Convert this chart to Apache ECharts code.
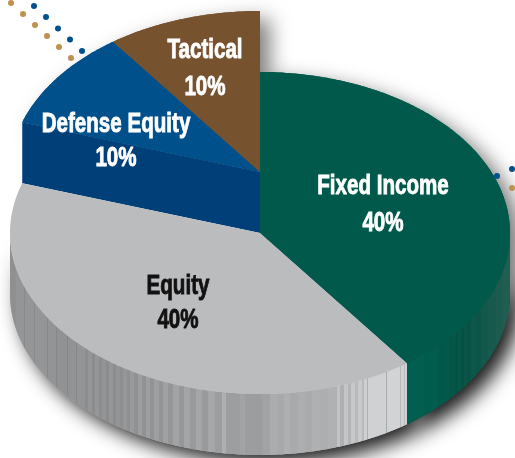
<!DOCTYPE html>
<html>
<head>
<meta charset="utf-8">
<style>html,body{margin:0;padding:0;background:#fff}#c{width:515px;height:458px}</style>
<script src="https://cdn.jsdelivr.net/npm/echarts@6/dist/echarts.min.js"></script>
</head>
<body>
<div id="c"></div>
<script>
const categories = ['Fixed Income', 'Equity', 'Defense Equity', 'Tactical'];
const shares = [40, 40, 10, 10];

const topColors = ['#00594a', '#bbbcbe', '#00508c', '#76522e'];
const labelColors = ['#ffffff', '#111111', '#ffffff', '#ffffff'];
const labelSpots = [[383, 186, 223], [178, 286, 320], [116, 124, 158], [205, 50, 87]];
const faceColor = '#003f78';
const firstLifted = 2;

const CX = 260, CY = 233, RX = 250, RY = 161, DEPTH = 61;
const FONT = 'bold 28px "Liberation Sans", sans-serif';
const TEXT_SQUEEZE = 0.735;

const greyWall = [
  [8,'#8f9092'],[16,'#949597'],[24,'#88898b'],[25,'#949597'],[34,'#88898b'],[35,'#949597'],[47,'#87888a'],[48,'#939496'],
  [56,'#86878a'],[57,'#919294'],[67,'#858688'],[68,'#929395'],[76,'#858688'],[77,'#939496'],[85,'#8c8d8f'],[88,'#949597'],
  [92,'#8b8c8e'],[95,'#959698'],[99,'#8c8d8f'],[102,'#939496'],[106,'#8b8c8e'],[109,'#959698'],[113,'#8c8d8f'],[116,'#949597'],
  [120,'#8d8e90'],[123,'#969799'],[127,'#8e8f91'],[130,'#999a9c'],[134,'#909193'],[138,'#9d9ea0'],[142,'#919294'],[146,'#9e9fa1'],
  [150,'#929395'],[154,'#9f9fa2'],[159,'#939496'],[163,'#a0a1a3'],[168,'#959698'],[173,'#a2a3a5'],[179,'#969799'],[184,'#a4a5a7'],
  [190,'#98999b'],[196,'#a5a6a8'],[202,'#9a9a9c'],[208,'#a6a7a9'],[215,'#9c9d9f'],[222,'#aeafb1'],[226,'#9d9ea0'],[240,'#a2a3a5'],
  [245,'#9c9d9f'],[262,'#a1a2a4'],[270,'#abacae'],[278,'#a7a8aa'],[284,'#aeafb1'],[290,'#a9aaac'],[298,'#adaeb0'],[305,'#aaabad'],
  [312,'#afb0b2'],[320,'#adaeb0'],[328,'#b0b1b3'],[337,'#c2c3c5'],[340,'#afb0b2'],[344,'#c4c5c7'],[348,'#b4b5b7'],[351,'#c6c7c9'],
  [355,'#b8b9bb'],[358,'#c9cacc'],[362,'#b8b9bb'],[364,'#cdcfd0'],[367,'#abb2b0'],[368,'#cfd1d2'],[386,'#a5aeab'],[387,'#d1d3d4'],
  [400,'#b8bdbb'],[401,'#d0d2d3'],[404,'#bcc1bf'],[405,'#d0d2d3']
];
const greenWall = [
  [407,'#005f50'],[416,'#025e4f'],[424,'#005c4d'],[431,'#035c4d'],[438,'#00594b'],[444,'#04594b'],[449,'#035547'],[452,'#075749'],
  [455,'#045245'],[458,'#095648'],[461,'#055144'],[464,'#0b5548'],[467,'#085245'],[471,'#0f574a'],[476,'#0c5448'],[481,'#14584c'],
  [488,'#18594d'],[496,'#1d5b4f'],[503,'#215d51'],[511,'#1e5a4e']
];
const dotsBlue = [[34,6],[46,17],[58,28.5],[70,39.5],[82,51],[497,176],[512,169]];
const dotsTan = [[11,3],[23,14],[35,25],[47,36],[59,47],[71,58],[512,188]];

function hardStops(list) {
  const a = list[0][0], b = list[list.length - 1][0] + 6, stops = [];
  list.forEach((s, i) => {
    const next = i + 1 < list.length ? list[i + 1][0] : b;
    stops.push({ offset: (s[0] - a) / (b - a), color: s[1] });
    stops.push({ offset: (next - a) / (b - a), color: s[1] });
  });
  return { type: 'linear', x: a, y: 0, x2: b, y2: 0, global: true, colorStops: stops };
}
function pt(deg, lift) {
  const t = deg * Math.PI / 180;
  return [CX + RX * Math.sin(t), CY - lift - RY * Math.cos(t)];
}
function arc(from, to, lift) {
  const p = [], n = Math.max(2, Math.ceil(Math.abs(to - from) * 2));
  for (let i = 0; i <= n; i++) p.push(pt(from + (to - from) * i / n, lift));
  return p;
}
const total = shares.reduce((a, b) => a + b, 0);

function geometry(api) {
  const i = api.value(1);
  let before = 0;
  for (let k = 0; k < i; k++) before += shares[k];
  const start = before / total * 360, end = (before + api.value(0)) / total * 360;
  const lift = i >= firstLifted ? DEPTH : 0;
  const wedge = [[CX, CY - lift]].concat(arc(start, end, lift));
  const wallFrom = Math.max(start, 90), wallTo = Math.min(end, 270);
  const wall = !lift && wallTo > wallFrom ? arc(wallFrom, wallTo, 0).concat(arc(wallTo, wallFrom, -DEPTH)) : null;
  return { i, start, lift, wedge, wall };
}

function renderShadow(params, api) {
  const g = geometry(api);
  const shadow = {
    fill: topColors[g.i],
    shadowBlur: 20,
    shadowColor: g.lift ? 'rgba(0,0,0,0.5)' : 'rgba(0,0,0,0.9)',
    shadowOffsetX: 10,
    shadowOffsetY: 8
  };
  const outline = g.wall ? g.wall : g.wedge;
  const children = [{ type: 'polygon', shape: { points: outline }, style: shadow }];
  if (g.wall && g.start < 90) {
    children.push({ type: 'polygon', shape: { points: g.wedge }, style: Object.assign({}, shadow, { shadowColor: 'rgba(0,0,0,0.55)' }) });
  }
  return { type: 'group', children };
}

function renderSurface(params, api) {
  const g = geometry(api);
  const i = g.i;
  const children = [];
  if (g.wall) {
    children.push({ type: 'polygon', z2: 3, shape: { points: g.wall }, style: { fill: hardStops(g.start < 100 ? greenWall : greyWall) } });
  }
  if (i === firstLifted) {
    const face = [pt(g.start, g.lift), [CX, CY - g.lift], [CX, CY], pt(g.start, 0)];
    children.push({ type: 'polygon', z2: 2, shape: { points: face }, style: { fill: faceColor } });
  }
  children.push({ type: 'polygon', z2: 5, shape: { points: g.wedge }, style: { fill: topColors[i] } });

  const spot = labelSpots[i];
  [categories[i], api.value(0) + '%'].forEach((text, line) => {
    children.push({
      type: 'text', z2: 9, x: spot[0], y: spot[line + 1], scaleX: TEXT_SQUEEZE, scaleY: 1,
      style: {
        x: 0, y: 0, text, fill: labelColors[i], stroke: labelColors[i], lineWidth: 0.9,
        font: FONT, align: 'center', verticalAlign: 'middle'
      }
    });
  });
  return { type: 'group', children };
}

function dotGraphic(list, fill) {
  return list.map(p => ({ type: 'circle', z: 10, shape: { cx: p[0], cy: p[1], r: 3 }, style: { fill } }));
}

const seriesData = shares.map((v, i) => [v, i]);
const chart = echarts.init(document.getElementById('c'), null, { renderer: 'canvas' });
chart.setOption({
  animation: false,
  backgroundColor: '#ffffff',
  graphic: dotGraphic(dotsBlue, '#00518f').concat(dotGraphic(dotsTan, '#c0904f')),
  series: [
    { type: 'custom', coordinateSystem: 'none', z: 1, silent: true, renderItem: renderShadow, data: seriesData },
    { type: 'custom', coordinateSystem: 'none', z: 2, silent: true, renderItem: renderSurface, data: seriesData }
  ]
});
</script>
</body>
</html>
